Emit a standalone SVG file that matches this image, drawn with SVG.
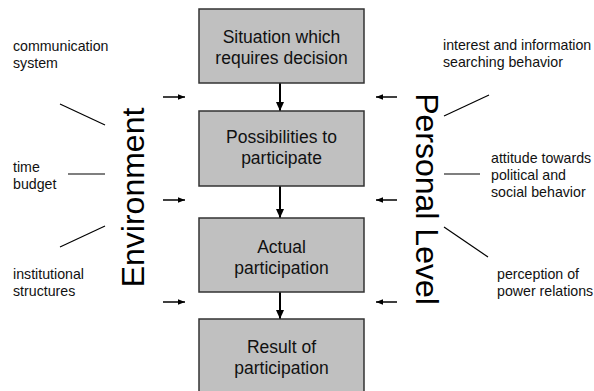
<svg xmlns="http://www.w3.org/2000/svg" width="594" height="391" viewBox="0 0 594 391">
<defs>
<marker id="ah" markerWidth="10" markerHeight="10" refX="9" refY="5" orient="auto" markerUnits="userSpaceOnUse">
<path d="M0,1 L9,5 L0,9 Z" fill="#000"/>
</marker>
<marker id="sh" markerWidth="8" markerHeight="8" refX="7" refY="4" orient="auto" markerUnits="userSpaceOnUse">
<path d="M0,1.2 L7,4 L0,6.8 Z" fill="#000"/>
</marker>
</defs>
<style>
.box{fill:#c0c0c0;stroke:#333;stroke-width:1.5}
.bt{font-family:"Liberation Sans",Arial,sans-serif;font-size:17.5px;fill:#111;text-anchor:middle}
.lt{font-family:"Liberation Sans",Arial,sans-serif;font-size:14.2px;fill:#111}
.big{font-family:"Liberation Sans",Arial,sans-serif;font-size:32px;fill:#000;text-anchor:middle}
.ln{stroke:#000;stroke-width:1.2;fill:none}
.ar{stroke:#000;stroke-width:2;fill:none;marker-end:url(#ah)}
.sa{stroke:#000;stroke-width:1.5;fill:none;marker-end:url(#sh)}
</style>
<rect width="594" height="391" fill="#fff"/>
<g id="connectors">
<line class="ar" x1="280" y1="83" x2="280" y2="111"/>
<line class="ar" x1="280" y1="186" x2="280" y2="218"/>
<line class="ar" x1="280" y1="292" x2="280" y2="319"/>
<line class="sa" x1="163" y1="97" x2="185" y2="97"/>
<line class="sa" x1="163" y1="200" x2="185" y2="200"/>
<line class="sa" x1="163" y1="302" x2="185" y2="302"/>
<line class="sa" x1="397" y1="97" x2="376" y2="97"/>
<line class="sa" x1="397" y1="200" x2="376" y2="200"/>
<line class="sa" x1="397" y1="302" x2="376" y2="302"/>
<line class="ln" x1="60" y1="104" x2="105" y2="125"/>
<line class="ln" x1="68" y1="174" x2="105" y2="174"/>
<line class="ln" x1="60" y1="247" x2="105" y2="226"/>
<line class="ln" x1="444" y1="116" x2="489" y2="95"/>
<line class="ln" x1="444" y1="174" x2="480" y2="174"/>
<line class="ln" x1="444" y1="227" x2="488" y2="257"/>
</g>
<g id="n1">
<rect class="box" x="199" y="9" width="165" height="74"/>
<text class="bt" x="281.5" y="43">Situation which</text>
<text class="bt" x="281.5" y="64">requires decision</text>
</g>
<g id="n2">
<rect class="box" x="199" y="111" width="165" height="75"/>
<text class="bt" x="281.5" y="143">Possibilities to</text>
<text class="bt" x="281.5" y="164">participate</text>
</g>
<g id="n3">
<rect class="box" x="199" y="218" width="165" height="74"/>
<text class="bt" x="281.5" y="253">Actual</text>
<text class="bt" x="281.5" y="274">participation</text>
</g>
<g id="n4">
<rect class="box" x="199" y="319" width="165" height="80"/>
<text class="bt" x="281.5" y="353">Result of</text>
<text class="bt" x="281.5" y="374">participation</text>
</g>
<g id="environment">
<text class="big" transform="translate(144,197.5) rotate(-90)">Environment</text>
</g>
<g id="personal-level">
<text class="big" transform="translate(416,199) rotate(90)">Personal Level</text>
</g>
<g id="l-communication">
<text class="lt" x="13" y="51">communication</text>
<text class="lt" x="13" y="68">system</text>
</g>
<g id="l-time">
<text class="lt" x="13" y="172">time</text>
<text class="lt" x="13" y="189">budget</text>
</g>
<g id="l-institutional">
<text class="lt" x="13" y="279">institutional</text>
<text class="lt" x="13" y="296">structures</text>
</g>
<g id="l-interest">
<text class="lt" x="443" y="50">interest and information</text>
<text class="lt" x="443" y="67">searching behavior</text>
</g>
<g id="l-attitude">
<text class="lt" x="491" y="163">attitude towards</text>
<text class="lt" x="491" y="180">political and</text>
<text class="lt" x="491" y="197">social behavior</text>
</g>
<g id="l-perception">
<text class="lt" x="497" y="279">perception of</text>
<text class="lt" x="497" y="296">power relations</text>
</g>
</svg>
